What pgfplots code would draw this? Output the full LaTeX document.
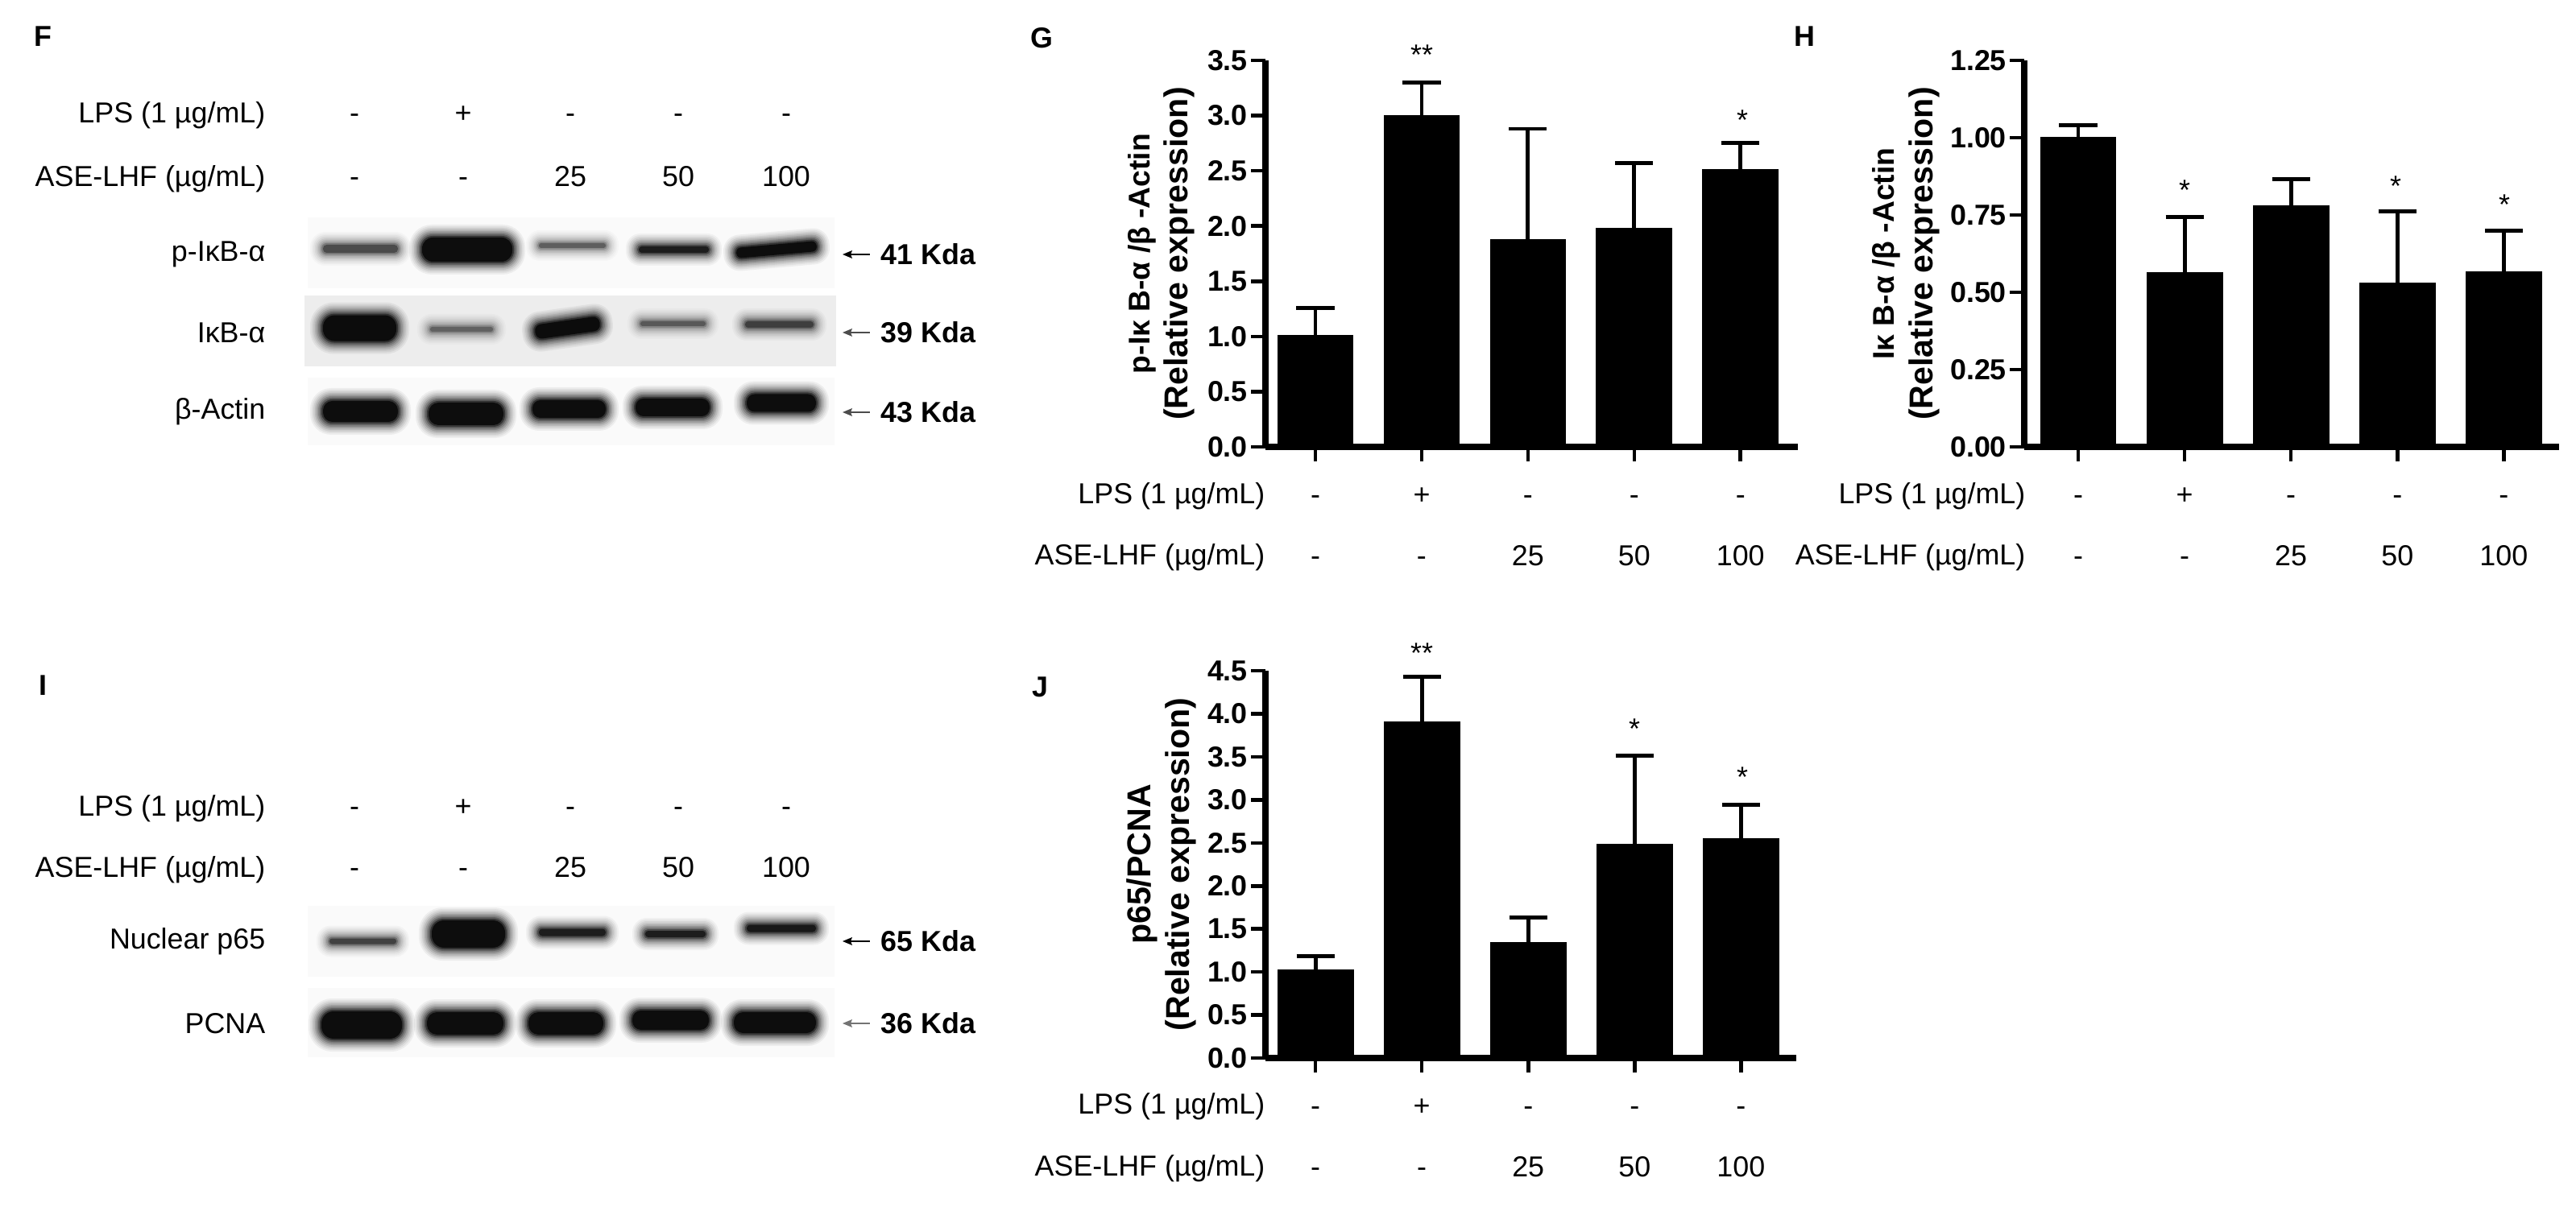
\documentclass[border=0pt]{standalone}
\usepackage{pgfplots}
\pgfplotsset{compat=1.18}
\usepackage{pgfplotstable}
\usepackage{fontspec}
\setmainfont{Liberation Sans}
\newcommand\lab{\fontsize{10.2}{21.6}\selectfont}
\newcommand\first{\fontsize{10.6}{13.4}\selectfont}
\pgfplotstableread{
x y e
0 1.01 0.25
1 3.00 0.30
2 1.88 1.00
3 1.98 0.59
4 2.51 0.24
}\tabG
\pgfplotstableread{
x y e
0 1.00 0.04
1 0.565 0.178
2 0.78 0.085
3 0.531 0.230
4 0.567 0.133
}\tabH
\pgfplotstableread{
x y e
0 1.02 0.16
1 3.91 0.52
2 1.34 0.29
3 2.48 1.03
4 2.55 0.39
}\tabJ
\pgfplotsset{
 barpanel/.style={
  scale only axis, clip=false,
  axis x line=bottom, axis y line=left,
  axis line style={-, line width=2.3pt, black},
  major tick length=5.1pt,
  tick style={line width=1.3pt, black},
  xtick align=outside, ytick align=outside,
  xtick={0,1,2,3,4},
  xticklabels={{\strut -\\-},{\strut +\\-},{\strut -\\25},{\strut -\\50},{\strut -\\100}},
  x tick label style={align=center, font=\lab, inner sep=0pt},
  y tick label style={font=\bfseries\fontsize{10.2}{12}\selectfont, inner sep=1pt},
  /pgf/number format/assume math mode=true,
  /pgf/number format/fixed, /pgf/number format/fixed zerofill,
  scaled y ticks=false,
  ymin=0,
  ylabel style={align=center, anchor=center, font=\bfseries\fontsize{11.7}{13.4}\selectfont},
 },
 barplot/.style={ybar, bar width=0.71, fill=black, draw=black, line width=0.3pt,
  error bars/.cd, y dir=plus, y explicit,
  error bar style={line width=1.4pt, black},
  error mark options={rotate=90, mark size=6.7pt, line width=1.4pt, black}},
}
% blurred band of a blot: [tilt]{left}{right}{centre y}{height}{darkness}
\newcommand\band[6][0]{%
 \foreach \e/\o in {14/.05,12/.06,10/.08,8/.10,6/.14,4/.18,2/.26,0/.45,-2/.75}{%
  \pgfmathsetmacro\r{0.9*(#5/2+\e)*0.2845}%
  \pgfmathsetmacro\op{#6*\o}%
  \fill[black,opacity=\op,rounded corners=\r pt,rotate around={#1:({(#2+#3)/2},{1503-#4})}]
   ({#2-(\e)},{1503-#4-#5/2-(\e)}) rectangle ({#3+(\e)},{1503-#4+#5/2+(\e)});
 }}
\newcommand\kda[3]{% y, text, arrow gray
 \draw[line width=0.6pt,#3] (1048,{1503-#1}) -- (1080,{1503-#1});
 \fill[#3] (1046,{1503-#1}) -- (1058,{1503-#1+5}) -- (1056,{1503-#1}) -- (1058,{1503-#1-5}) -- cycle;
 \node[anchor=west,inner sep=0pt,font=\bfseries\lab] at (1093,{1503-#1}) {#2};}
\newcommand\blotlabel[2]{\node[anchor=east,inner sep=0pt,font=\lab] at (330,{1503-#1}) {#2};}
\newcommand\rows[2]{%
 \node[anchor=base east,inner sep=0pt,font=\lab] at (330,{1503-#1}) {LPS (1 µg/mL)};
 \node[anchor=base east,inner sep=0pt,font=\lab] at (330,{1503-#2}) {ASE-LHF (µg/mL)};
 \foreach \x/\a/\b in {440/-/-,575/+/-,708/-/25,842/-/50,976/-/100}{
  \node[anchor=base,inner sep=0pt,font=\lab] at (\x,{1503-#1}) {\a};
  \node[anchor=base,inner sep=0pt,font=\lab] at (\x,{1503-#2}) {\b};}}
\newcommand\sig[3]{\node[anchor=base,inner sep=0pt,font=\lab] at (#1,{1503-#2}) {#3};}
\newcommand\rowhead[3]{\node[anchor=base east,inner sep=0pt,font=\lab] at (#1,{1503-#2}) {#3};}
\begin{document}
\begin{tikzpicture}
\path[use as bounding box] (0,0) rectangle (319.8mm,150.3mm);

% G
\begin{axis}[barpanel, at={(157.1mm,94.8mm)}, anchor=south west, width=66.1mm, height=48mm,
  xmin=-0.47, xmax=4.54, ymax=3.5, ytick={0,0.5,...,3.5},
  /pgf/number format/precision=1,
  ylabel={\first p-Iκ B-α /β -Actin\\(Relative expression)},
  ylabel style={at={(axis description cs:-0.196,0.5)}}]
\addplot[barplot] table[x=x,y=y,y error=e] {\tabG};
\end{axis}
% H
\begin{axis}[barpanel, at={(251.3mm,94.8mm)}, anchor=south west, width=66.4mm, height=48mm,
  xmin=-0.507, xmax=4.52, ymax=1.25, ytick={0,0.25,...,1.25},
  /pgf/number format/precision=2,
  ylabel={\first Iκ B-α /β -Actin\\(Relative expression)},
  ylabel style={at={(axis description cs:-0.221,0.5)}}]
\addplot[barplot] table[x=x,y=y,y error=e] {\tabH};
\end{axis}
% J
\begin{axis}[barpanel, at={(157.1mm,18.9mm)}, anchor=south west, width=65.9mm, height=48.1mm,
  xmin=-0.47, xmax=4.52, ymax=4.5, ytick={0,0.5,...,4.5},
  /pgf/number format/precision=1,
  ylabel={p65/PCNA\\(Relative expression)},
  ylabel style={at={(axis description cs:-0.196,0.5)}}]
\addplot[barplot] table[x=x,y=y,y error=e] {\tabJ};
\end{axis}

\begin{scope}[x=0.1mm,y=0.1mm]
% row headers of the bar panels
\rowhead{1571}{626}{LPS (1 µg/mL)}
\rowhead{1571}{702}{ASE-LHF (µg/mL)}
\rowhead{2515}{626}{LPS (1 µg/mL)}
\rowhead{2515}{702}{ASE-LHF (µg/mL)}
\rowhead{1571}{1383}{LPS (1 µg/mL)}
\rowhead{1571}{1460}{ASE-LHF (µg/mL)}
% significance
\sig{1765}{81}{**}\sig{2163}{162}{*}
\sig{2712}{249}{*}\sig{2974}{244}{*}\sig{3109}{267}{*}
\sig{1765}{824}{**}\sig{2029}{918}{*}\sig{2163}{978}{*}
% panel letters
\foreach \x/\y/\t in {53/45/F,1293/47/G,2240/45/H,53/851/I,1291/853/J}
 {\node[inner sep=0pt,font=\bfseries\lab] at (\x,{1503-\y}) {\t};}

% blot F
\rows{153}{232}
\fill[black!2] (382,{1503-358}) rectangle (1036,{1503-270});
\fill[black!7] (378,{1503-455}) rectangle (1038,{1503-367});
\fill[black!2] (382,{1503-553}) rectangle (1036,{1503-469});
\band{399}{496}{309}{14}{.5}
\band{522}{638}{310}{34}{1}
\band{667}{754}{305}{10}{.42}
\band{791}{882}{310}{12}{.8}
\band[5]{912}{1016}{310}{17}{1}
\band{399}{494}{407.6}{36}{1}
\band{532}{614}{409}{10}{.38}
\band[8]{662}{747}{407}{22}{1}
\band{793}{878}{402}{10}{.42}
\band{923}{1012}{403}{12}{.55}
\band{399}{496}{511}{30}{1}
\band{530}{627}{514}{32}{1}
\band{659}{754}{508}{26}{1}
\band{787}{883}{506}{26}{1}
\band{925}{1015}{500.5}{26}{1}
\blotlabel{316}{p-IκB-α}\blotlabel{413}{IκB-α}\blotlabel{511}{β-Actin}
\kda{316}{41 Kda}{black}\kda{413}{39 Kda}{black!70}\kda{512}{43 Kda}{black!70}

% blot I
\rows{1014}{1090}
\fill[black!2] (382,{1503-1213}) rectangle (1036,{1503-1125});
\fill[black!2] (382,{1503-1313}) rectangle (1036,{1503-1227});
\band{407}{494}{1169}{11}{.55}
\band{534}{629}{1160}{38}{1}
\band{667}{754}{1158}{13}{.8}
\band{799}{878}{1160}{12}{.8}
\band{925}{1015}{1153}{13}{.85}
\band{397}{501}{1273}{38}{1}
\band{528}{627}{1271}{32}{1}
\band{654}{751}{1271}{32}{1}
\band{783}{882}{1267}{28}{1}
\band{909}{1015}{1270}{30}{1}
\blotlabel{1169}{Nuclear p65}\blotlabel{1271}{PCNA}
\kda{1169}{65 Kda}{black}\kda{1271}{36 Kda}{black!55}
\end{scope}
\end{tikzpicture}
\end{document}
